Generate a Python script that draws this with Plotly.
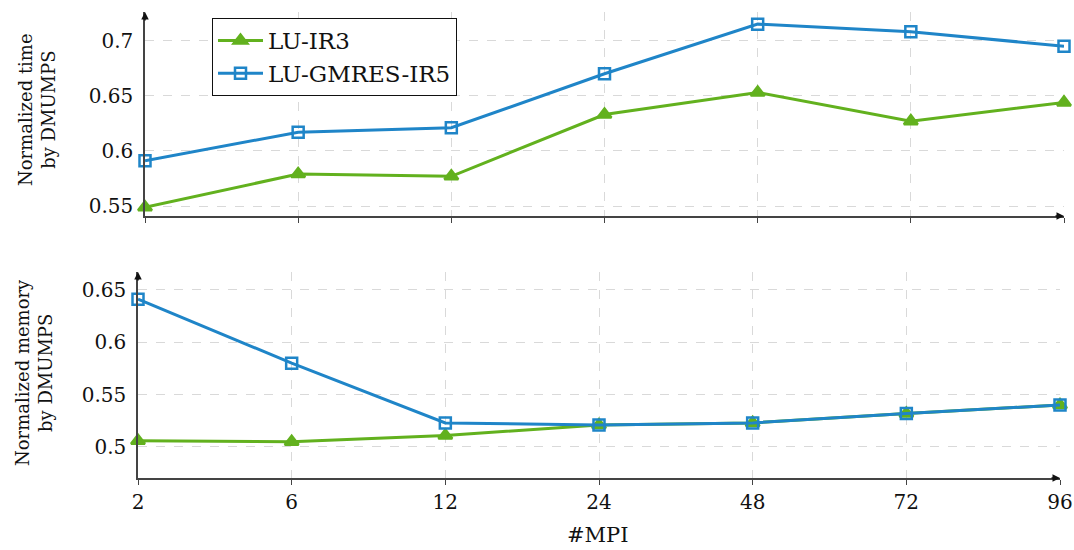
import plotly.graph_objects as go

mpi = ["2", "6", "12", "24", "48", "72", "96"]
time_luir3 = [0.549, 0.579, 0.577, 0.633, 0.653, 0.627, 0.644]
time_gmres = [0.591, 0.617, 0.621, 0.670, 0.715, 0.708, 0.695]
mem_luir3 = [0.506, 0.505, 0.511, 0.521, 0.523, 0.532, 0.540]
mem_gmres = [0.641, 0.580, 0.523, 0.521, 0.523, 0.532, 0.540]

GREEN = "#62b11e"
BLUE = "#1f85c8"
FONT = "DejaVu Serif"
W, H = 1074, 550

fig = go.Figure()

def add(x, y, name, color, sym, xa, ya, show):
    fig.add_trace(go.Scatter(
        x=x, y=y, name=name, mode="lines+markers",
        line=dict(color=color, width=3),
        marker=dict(symbol=sym, size=12 if sym == "triangle-up" else 11,
                    color=color, line=dict(color=color, width=2.5)),
        xaxis=xa, yaxis=ya, showlegend=show, cliponaxis=False))

add(mpi, time_luir3, "LU-IR3", GREEN, "triangle-up", "x", "y", True)
add(mpi, time_gmres, "LU-GMRES-IR5", BLUE, "square-open", "x", "y", True)
add(mpi, mem_luir3, "LU-IR3", GREEN, "triangle-up", "x2", "y2", False)
add(mpi, mem_gmres, "LU-GMRES-IR5", BLUE, "square-open", "x2", "y2", False)

grid = dict(showgrid=True, gridcolor="#d9d9d9", griddash="dash", gridwidth=1,
            zeroline=False, showline=True, linecolor="#444", linewidth=1.5)

top_x = [145 / W, 1064 / W]
bot_x = [138 / W, 1060 / W]
top_y = [1 - 216 / H, 1 - 12 / H]
bot_y = [1 - 478 / H, 1 - 272 / H]

fig.update_layout(
    width=W, height=H, autosize=False,
    margin=dict(l=0, r=0, t=0, b=0, autoexpand=False),
    paper_bgcolor="white", plot_bgcolor="white",
    font=dict(family=FONT, size=20, color="#111"),
    xaxis=dict(domain=top_x, anchor="y", type="category", range=[0, 6],
               showticklabels=False, ticks="outside", ticklen=5, tickcolor="#444", **grid),
    yaxis=dict(domain=top_y, anchor="x", range=[0.541, 0.726],
               tickvals=[0.55, 0.6, 0.65, 0.7], ticktext=["0.55", "0.6", "0.65", "0.7"],
               ticks="", ticklabelstandoff=6, **grid),
    xaxis2=dict(domain=bot_x, anchor="y2", type="category", range=[0, 6],
                ticks="outside", ticklen=5, tickcolor="#444", **grid),
    yaxis2=dict(domain=bot_y, anchor="x2", range=[0.4704, 0.667],
                tickvals=[0.5, 0.55, 0.6, 0.65], ticktext=["0.5", "0.55", "0.6", "0.65"],
                ticks="", ticklabelstandoff=6, **grid),
    legend=dict(x=212 / W, y=1 - 18 / H, xanchor="left", yanchor="top",
                bordercolor="#111", borderwidth=1, bgcolor="white",
                font=dict(family=FONT, size=23), itemwidth=45, tracegroupgap=0),
    showlegend=True,
)

ann = [
    dict(text="Normalized time<br>by DMUMPS", x=37 / W, y=1 - 110 / H, textangle=-90,
         font=dict(size=18, family=FONT)),
    dict(text="Normalized memory<br>by DMUMPS", x=34 / W, y=1 - 373 / H, textangle=-90,
         font=dict(size=18, family=FONT)),
    dict(text="#MPI", x=598 / W, y=1 - 535 / H, font=dict(size=21, family=FONT)),
]
for a in ann:
    a.update(xref="paper", yref="paper", showarrow=False, xanchor="center", yanchor="middle")
    fig.add_annotation(**a)

# axis arrows
arrows = [
    (top_x[0], top_y[1], 0, 10), (top_x[1], top_y[0], -10, 0),
    (bot_x[0], bot_y[1], 0, 10), (bot_x[1], bot_y[0], -10, 0),
]
for x, y, ax, ay in arrows:
    fig.add_annotation(x=x, y=y, xref="paper", yref="paper", ax=ax, ay=ay,
                       axref="pixel", ayref="pixel", showarrow=True, arrowhead=2,
                       arrowsize=1, arrowwidth=1.5, arrowcolor="#111", text="")

fig.write_html("out.html", config={"responsive": False, "displayModeBar": False},
               post_script="document.body.style.margin='0';document.body.style.overflow='hidden';")
